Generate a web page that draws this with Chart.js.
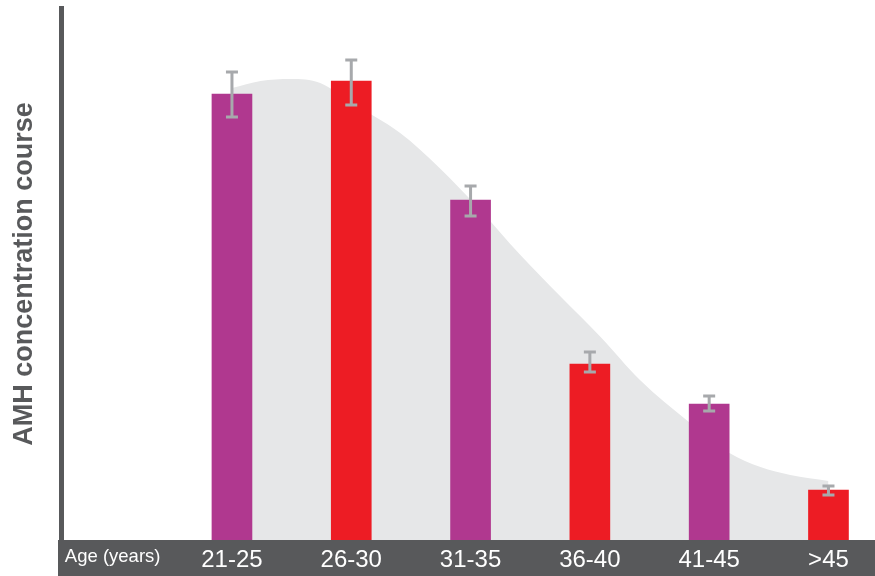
<!DOCTYPE html>
<html>
<head>
<meta charset="utf-8">
<script src="https://cdn.jsdelivr.net/npm/chart.js@4/dist/chart.umd.min.js"></script>
<style>
  html, body { margin: 0; padding: 0; background: #fff; }
  #wrap { width: 875px; height: 576px; }
</style>
</head>
<body>
<div id="wrap"><canvas id="amhChart"></canvas></div>
<script>
// tick labels, position 0 is the axis caption
const xLabels = ['Age (years)', '21-25', '26-30', '31-35', '36-40', '41-45', '>45'];
// bar values (arbitrary units)
const barPos = [1, 2, 3, 4, 5, 6];
const barValues = [446, 459, 340, 176, 136, 50];
const errLow = [423, 435, 324, 168, 129, 45];
const errHigh = [468, 480, 354, 188, 144, 54];
const barColors = ['#b0388f', '#ed1c24', '#b0388f', '#ed1c24', '#b0388f', '#ed1c24'];
// grey background trend curve
const curveX = [1, 1.24, 1.49, 1.74, 1.99, 2.41, 2.74, 3.08, 3.41, 3.75, 4.09, 4.42, 4.83, 5.17, 5.43, 5.68, 6];
const curveY = [452, 459, 461, 457, 438, 407, 372, 330, 286, 244, 203, 160, 118, 87, 73, 65, 59];

const axisGrey = '#58595b';

const bandPlugin = {
    id: 'band',
    beforeDraw(chart) {
        const ctx = chart.ctx;
        const a = chart.chartArea;
        ctx.save();
        ctx.fillStyle = axisGrey;
        ctx.fillRect(a.left - 3, a.bottom, chart.width - a.left + 3, chart.height - a.bottom);
        ctx.restore();
    }
};

const errorPlugin = {
    id: 'errbars',
    afterDatasetsDraw(chart) {
        const ctx = chart.ctx;
        const xs = chart.scales.x, ys = chart.scales.y;
        ctx.save();
        ctx.strokeStyle = '#a7a9ac';
        ctx.lineWidth = 3;
        for (let i = 0; i < barPos.length; i++) {
            let x = xs.getPixelForValue(barPos[i]);
            let y1 = ys.getPixelForValue(errHigh[i]);
            let y2 = ys.getPixelForValue(errLow[i]);
            ctx.beginPath();
            ctx.moveTo(x, y1); ctx.lineTo(x, y2);
            ctx.moveTo(x - 6, y1); ctx.lineTo(x + 6, y1);
            ctx.moveTo(x - 6, y2); ctx.lineTo(x + 6, y2);
            ctx.stroke();
        }
        ctx.restore();
    }
};

const barData = barPos.map((p, i) => ({ x: p, y: barValues[i] }));
const curveData = curveX.map((p, i) => ({ x: p, y: curveY[i] }));

new Chart(document.getElementById('amhChart').getContext('2d'), {
    type: 'bar',
    data: {
        datasets: [{
            type: 'bar',
            data: barData,
            backgroundColor: barColors,
            barThickness: 40,
            order: 1
        }, {
            type: 'line',
            data: curveData,
            fill: 'origin',
            backgroundColor: '#e6e7e8',
            borderWidth: 0,
            pointRadius: 0,
            cubicInterpolationMode: 'monotone',
            order: 2
        }]
    },
    options: {
        responsive: true,
        maintainAspectRatio: false,
        animation: false,
        layout: { padding: { top: 8, right: 0, bottom: 0, left: 0 } },
        plugins: { legend: { display: false }, tooltip: { enabled: false } },
        scales: {
            x: {
                type: 'linear',
                offset: false,
                min: -0.433,
                max: 6.39,
                grid: { display: false, drawTicks: false },
                border: { display: false },
                afterBuildTicks(scale) {
                    scale.ticks = xLabels.map((l, i) => ({ value: i }));
                },
                afterFit(scale) { scale.height = 36; },
                ticks: {
                    color: '#ffffff',
                    padding: 6,
                    maxRotation: 0,
                    autoSkip: false,
                    callback: (v) => xLabels[v],
                    font: (c) => c.index === 0
                        ? { family: 'Liberation Sans, Arial', size: 18.5 }
                        : { family: 'Liberation Sans, Arial', size: 24 }
                }
            },
            y: {
                min: 0,
                max: 532,
                grid: { display: false, drawTicks: false },
                border: { display: true, color: axisGrey, width: 5 },
                ticks: { display: false },
                afterFit(scale) { scale.width = 61; },
                title: {
                    display: true,
                    text: 'AMH concentration course',
                    color: axisGrey,
                    font: { family: 'Liberation Sans, Arial', size: 27, weight: 'bold' },
                    padding: { top: 8, bottom: 0 }
                }
            }
        }
    },
    plugins: [bandPlugin, errorPlugin]
});
</script>
</body>
</html>
